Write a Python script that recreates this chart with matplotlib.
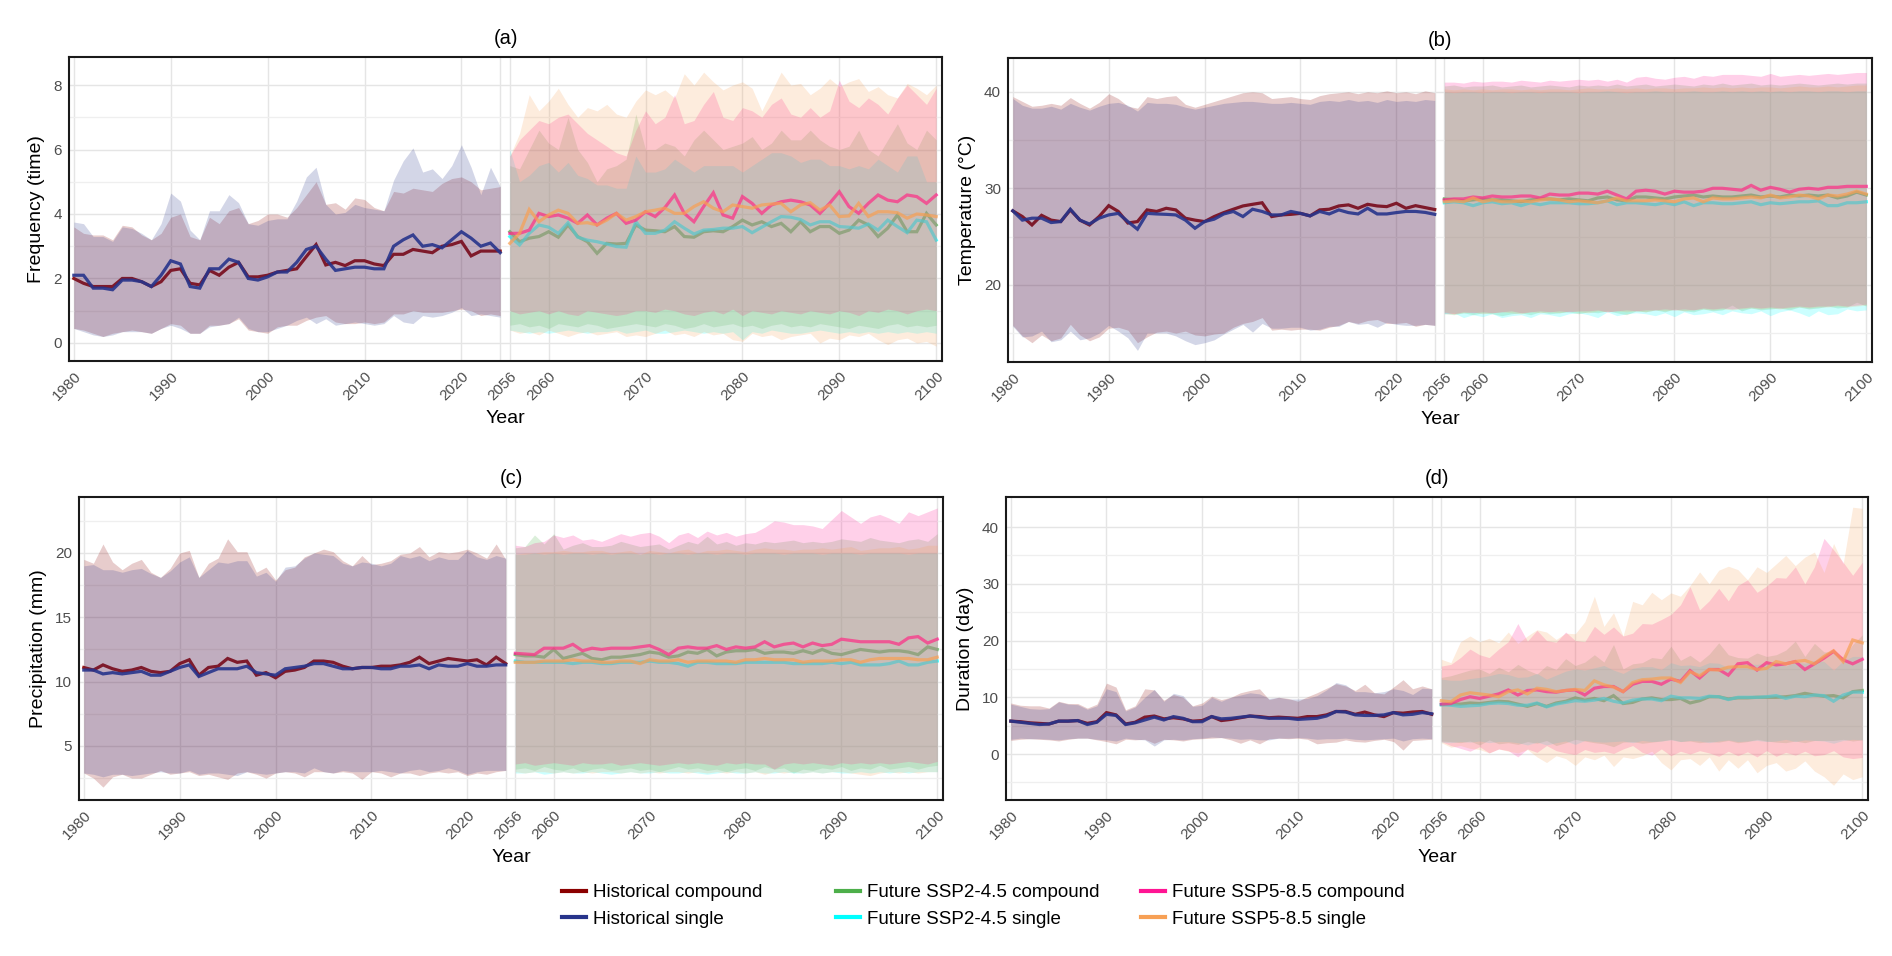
import numpy as np
import matplotlib
matplotlib.use("Agg")
import matplotlib.pyplot as plt
from matplotlib.lines import Line2D

plt.rcParams['font.family'] = ['Liberation Sans', 'DejaVu Sans']

HIST_YEARS = np.arange(1980, 2025)
FUT_YEARS = np.arange(2056, 2101)
TICK_YEARS = [1980, 1990, 2000, 2010, 2020, 2024, 2056, 2060, 2070, 2080, 2090, 2100]
TICK_LABELS = ['1980', '1990', '2000', '2010', '2020', '', '2056', '2060', '2070', '2080', '2090', '2100']

NAMES = ['Historical compound', 'Historical single', 'Future SSP2-4.5 compound',
         'Future SSP2-4.5 single', 'Future SSP5-8.5 compound', 'Future SSP5-8.5 single']
COLORS = ['#8B0000', '#27348B', '#4DAF4A', '#00FFFF', '#FF1493', '#F7A055']

# ---- (a) Frequency ----
A_HC = [2.0, 1.85, 1.75, 1.75, 1.75, 2.0, 2.0, 1.9, 1.75,
        1.9, 2.25, 2.3, 1.85, 1.8, 2.25, 2.1, 2.35, 2.5,
        2.05, 2.05, 2.1, 2.2, 2.25, 2.3, 2.68, 3.05, 2.42,
        2.5, 2.4, 2.55, 2.55, 2.45, 2.4, 2.75, 2.75, 2.9,
        2.85, 2.8, 3.0, 3.05, 3.15, 2.7, 2.85, 2.85, 2.85]
A_HC_LO = [0.45, 0.4, 0.3, 0.2, 0.3, 0.35, 0.4, 0.35, 0.3,
           0.45, 0.6, 0.55, 0.3, 0.3, 0.55, 0.55, 0.6, 0.75,
           0.4, 0.35, 0.3, 0.5, 0.55, 0.55, 0.7, 0.8, 0.85,
           0.65, 0.6, 0.6, 0.65, 0.6, 0.65, 0.9, 0.9, 1.0,
           0.95, 0.95, 0.95, 1.0, 1.05, 1.0, 0.85, 0.9, 0.85]
A_HC_HI = [3.6, 3.4, 3.35, 3.35, 3.2, 3.65, 3.6, 3.35, 3.2,
           3.4, 3.9, 4.0, 3.3, 3.2, 3.9, 3.7, 4.1, 4.2,
           3.7, 3.8, 4.0, 4.0, 3.9, 4.2, 4.6, 5.0, 4.3,
           4.35, 4.15, 4.5, 4.45, 4.2, 4.1, 4.7, 4.65, 4.8,
           4.75, 4.7, 4.95, 5.1, 5.15, 5.0, 4.75, 4.8, 4.85]
A_HS = [2.1, 2.1, 1.7, 1.7, 1.65, 1.95, 1.95, 1.9, 1.75,
        2.1, 2.55, 2.45, 1.75, 1.7, 2.3, 2.3, 2.6, 2.5,
        2.0, 1.95, 2.05, 2.2, 2.2, 2.5, 2.9, 3.0, 2.6,
        2.25, 2.3, 2.35, 2.35, 2.3, 2.3, 3.0, 3.2, 3.35,
        3.0, 3.05, 2.95, 3.2, 3.45, 3.25, 3.0, 3.1, 2.8]
A_HS_LO = [0.45, 0.35, 0.25, 0.2, 0.25, 0.35, 0.35, 0.35, 0.3,
           0.45, 0.55, 0.45, 0.3, 0.3, 0.5, 0.55, 0.6, 0.8,
           0.45, 0.35, 0.35, 0.45, 0.55, 0.7, 0.8, 0.6, 0.75,
           0.55, 0.6, 0.65, 0.6, 0.55, 0.6, 0.85, 0.65, 0.6,
           0.85, 0.8, 0.85, 0.95, 1.1, 0.85, 0.9, 0.85, 0.8]
A_HS_HI = [3.75, 3.7, 3.3, 3.3, 3.15, 3.6, 3.55, 3.4, 3.2,
           3.7, 4.65, 4.4, 3.5, 3.2, 4.1, 4.1, 4.6, 4.35,
           3.7, 3.65, 3.8, 3.85, 3.85, 4.4, 5.15, 5.45, 4.3,
           4.0, 4.05, 4.3, 4.2, 4.15, 4.1, 5.05, 5.65, 6.05,
           5.3, 5.4, 5.1, 5.5, 6.15, 5.45, 4.6, 5.45, 4.85]
A_F45C = [3.45, 3.14, 3.25, 3.3, 3.45, 3.28, 3.66, 3.3, 3.14,
          2.78, 3.09, 3.07, 3.09, 3.66, 3.5, 3.48, 3.45, 3.61,
          3.3, 3.28, 3.45, 3.48, 3.45, 3.61, 3.81, 3.66, 3.76,
          3.61, 3.71, 3.45, 3.76, 3.45, 3.61, 3.61, 3.4, 3.5,
          3.81, 3.66, 3.3, 3.56, 3.97, 3.45, 3.45, 4.02, 3.66]
A_F45C_LO = [0.55, 0.6, 0.5, 0.55, 0.45, 0.6, 0.55, 0.5, 0.6,
             0.55, 0.45, 0.5, 0.55, 0.6, 0.55, 0.5, 0.6, 0.55,
             0.45, 0.5, 0.6, 0.5, 0.55, 0.6, 0.5, 0.55, 0.45,
             0.55, 0.6, 0.5, 0.55, 0.5, 0.6, 0.55, 0.5, 0.45,
             0.55, 0.5, 0.45, 0.55, 0.6, 0.5, 0.55, 0.5, 0.55]
A_F45C_HI = [5.5, 5.4, 6.0, 6.6, 6.2, 6.0, 7.0, 6.0, 5.6,
             5.0, 5.4, 5.5, 5.7, 7.1, 6.0, 6.0, 6.2, 6.1,
             5.8, 6.3, 6.6, 6.3, 6.0, 6.1, 6.2, 6.4, 6.0,
             6.2, 6.6, 6.3, 6.3, 6.6, 6.3, 6.1, 6.0, 6.1,
             6.6, 6.0, 5.8, 6.3, 6.8, 6.2, 6.0, 6.6, 6.3]
A_F45S = [3.3, 3.04, 3.4, 3.66, 3.59, 3.4, 3.73, 3.28, 3.19,
          3.14, 3.07, 2.99, 2.97, 3.76, 3.4, 3.4, 3.5, 3.76,
          3.56, 3.38, 3.5, 3.52, 3.56, 3.56, 3.61, 3.42, 3.59,
          3.76, 3.92, 3.9, 3.83, 3.66, 3.76, 3.76, 3.61, 3.59,
          3.56, 3.69, 3.5, 3.81, 3.61, 3.42, 3.81, 3.76, 3.19]
A_F45S_LO = [0.4, 0.35, 0.3, 0.35, 0.3, 0.35, 0.4, 0.35, 0.3,
             0.35, 0.35, 0.4, 0.3, 0.35, 0.4, 0.3, 0.3, 0.35,
             0.4, 0.35, 0.3, 0.35, 0.3, 0.35, 0.1, 0.35, 0.3,
             0.4, 0.35, 0.3, 0.3, 0.35, 0.4, 0.35, 0.3, 0.35,
             0.3, 0.35, 0.3, 0.35, 0.3, 0.35, 0.3, 0.35, 0.3]
A_F45S_HI = [6.0, 5.0, 5.2, 5.5, 5.6, 5.3, 5.6, 5.2, 5.1,
             4.9, 4.9, 4.8, 4.8, 5.8, 5.3, 5.3, 5.4, 5.7,
             5.5, 5.3, 5.5, 5.5, 5.5, 5.5, 5.3, 5.5, 5.7,
             5.9, 5.9, 5.8, 5.6, 5.7, 5.7, 5.5, 5.5, 5.4,
             5.5, 5.4, 5.7, 5.5, 5.3, 5.8, 5.8, 5.0, 5.0]
A_F85C = [3.4, 3.4, 3.5, 4.02, 3.92, 3.97, 3.87, 3.71, 3.97,
          3.66, 3.87, 4.02, 3.71, 3.81, 4.07, 3.92, 4.2, 4.59,
          4.02, 3.76, 4.23, 4.66, 3.97, 3.87, 4.54, 4.33, 4.02,
          4.28, 4.38, 4.43, 4.38, 4.28, 4.02, 4.33, 4.69, 4.23,
          4.02, 4.33, 4.59, 4.43, 4.38, 4.59, 4.54, 4.33, 4.59]
A_F85C_LO = [1.0, 0.9, 0.95, 1.0, 0.9, 1.0, 0.9, 0.85, 1.0,
             0.95, 0.9, 0.85, 0.9, 1.0, 1.0, 0.95, 1.05, 1.0,
             0.9, 0.85, 0.95, 1.0, 0.9, 1.05, 0.85, 1.0, 0.95,
             0.9, 1.0, 0.95, 0.9, 1.0, 0.95, 0.9, 1.0, 0.95,
             0.85, 1.0, 0.95, 1.05, 1.0, 0.9, 1.0, 1.05, 1.0]
A_F85C_HI = [5.8, 6.3, 6.6, 6.9, 6.8, 7.0, 7.1, 6.8, 6.5,
             6.3, 6.1, 5.9, 5.8, 6.6, 7.2, 6.8, 7.0, 7.7,
             6.8, 6.9, 7.4, 7.8, 7.0, 6.9, 7.3, 7.2, 7.0,
             7.4, 7.6, 7.1, 7.0, 7.3, 7.0, 7.2, 8.15, 7.5,
             7.3, 7.6, 7.4, 7.1, 7.6, 8.0, 7.7, 7.4, 7.9]
A_F85S = [3.09, 3.4, 4.14, 3.76, 3.97, 4.12, 4.02, 3.71, 3.73,
          3.66, 3.81, 4.02, 3.81, 3.92, 4.07, 4.12, 4.18, 4.02,
          4.02, 4.23, 4.38, 4.18, 4.07, 4.28, 4.23, 4.18, 4.28,
          4.31, 4.33, 4.07, 4.28, 4.35, 4.12, 4.28, 3.92, 3.94,
          4.33, 3.92, 4.07, 4.07, 4.04, 3.87, 4.0, 3.97, 3.92]
A_F85S_LO = [0.4, 0.3, 0.35, 0.25, 0.4, 0.3, 0.2, 0.3, 0.35,
             0.25, 0.3, 0.35, 0.2, 0.25, 0.2, 0.3, 0.4, 0.25,
             0.3, 0.2, 0.35, 0.25, 0.3, 0.1, 0.05, 0.3, 0.2,
             0.25, 0.1, 0.2, 0.25, 0.3, 0.0, 0.15, 0.1, 0.25,
             0.2, 0.3, 0.1, -0.05, 0.1, 0.15, 0.0, 0.05, -0.1]
A_F85S_HI = [5.8, 6.5, 7.7, 7.2, 7.5, 7.9, 7.4, 7.0, 7.3,
             7.2, 7.4, 7.1, 7.0, 7.5, 7.85, 7.7, 7.85, 7.6,
             8.35, 8.0, 8.4, 8.1, 7.85, 8.0, 8.1, 7.9, 7.2,
             7.8, 8.4, 8.0, 8.05, 7.7, 7.9, 8.2, 7.95, 8.1,
             8.2, 7.8, 7.95, 7.7, 7.6, 8.05, 7.9, 7.7, 8.0]

# ---- (b) Temperature ----
B_HC = [27.66, 27.07, 26.2, 27.2, 26.7, 26.55, 27.76, 26.7, 26.2,
        27.07, 28.2, 27.6, 26.4, 26.55, 27.76, 27.6, 27.93, 27.76,
        26.9, 26.7, 26.55, 27.07, 27.48, 27.83, 28.17, 28.34, 28.5,
        27.07, 27.24, 27.3, 27.4, 27.14, 27.76, 27.83, 28.17, 28.28,
        27.93, 28.34, 28.17, 28.1, 28.45, 27.93, 28.2, 28.0, 27.8]
B_HC_LO = [15.8, 14.7, 14.0, 14.8, 14.2, 14.5, 15.9, 14.8, 14.2,
           14.6, 15.5, 15.6, 15.3, 14.0, 14.6, 15.1, 15.2, 15.0,
           15.2, 14.8, 14.7, 14.9, 15.0, 15.6, 16.0, 16.2, 16.6,
           15.3, 15.4, 15.3, 15.4, 15.4, 15.3, 15.6, 15.8, 16.2,
           16.0, 16.3, 16.4, 16.0, 16.0, 16.1, 15.7, 15.9, 15.8]
B_HC_HI = [39.5, 39.0, 38.5, 38.6, 38.8, 38.6, 39.4, 38.8, 38.3,
           38.9, 39.8, 39.3, 38.5, 38.3, 39.5, 39.3, 39.5, 39.6,
           38.7, 38.4, 38.7, 39.0, 39.3, 39.6, 39.9, 40.0, 39.9,
           39.3, 39.4, 39.5, 39.3, 39.2, 39.6, 39.8, 39.9, 40.0,
           39.8, 40.0, 39.9, 40.1, 39.9, 40.0, 39.8, 40.1, 39.9]
B_HS = [27.66, 26.7, 26.9, 26.9, 26.45, 26.55, 27.83, 26.7, 26.3,
        26.9, 27.24, 27.4, 26.55, 25.76, 27.4, 27.34, 27.3, 27.24,
        26.7, 25.86, 26.55, 26.8, 27.34, 27.6, 27.07, 27.83, 27.6,
        27.24, 27.24, 27.6, 27.4, 27.14, 27.6, 27.34, 27.76, 27.48,
        27.34, 27.93, 27.34, 27.34, 27.48, 27.6, 27.6, 27.5, 27.3]
B_HS_LO = [15.7, 14.6, 14.7, 15.2, 14.1, 14.3, 15.2, 14.3, 14.5,
           15.0, 15.8, 15.2, 14.5, 13.2, 15.0, 15.0, 15.0, 14.7,
           14.2, 13.8, 14.0, 14.3, 14.9, 15.4, 15.9, 15.1, 16.0,
           15.5, 15.5, 15.6, 15.6, 15.3, 15.4, 15.7, 15.7, 16.2,
           15.9, 16.0, 15.6, 16.1, 15.9, 15.8, 15.8, 15.9, 15.8]
B_HS_HI = [39.3, 38.6, 38.3, 38.3, 38.5, 38.2, 38.8, 38.4, 38.1,
           38.5, 38.8, 38.9, 38.6, 38.0, 38.9, 38.8, 38.8, 38.7,
           38.4, 38.2, 38.4, 38.6, 38.8, 38.9, 39.0, 39.0, 38.9,
           38.8, 38.8, 38.9, 38.8, 38.7, 39.0, 39.1, 39.0, 39.2,
           39.0, 39.1, 38.9, 39.2, 39.0, 39.1, 39.0, 39.2, 39.1]
B_F45C = [28.9, 28.8, 28.7, 28.8, 28.9, 28.8, 28.8, 28.7, 28.6,
          28.8, 28.9, 28.9, 28.8, 28.9, 28.8, 28.7, 29.0, 29.1,
          28.8, 28.7, 29.1, 29.1, 29.0, 28.9, 29.1, 29.2, 29.3,
          29.1, 29.2, 29.1, 29.1, 29.2, 29.3, 29.1, 29.2, 29.1,
          29.3, 29.2, 29.3, 29.2, 29.3, 29.0, 29.2, 29.6, 29.3]
B_F45C_LO = [17.0, 16.9, 17.1, 16.9, 17.1, 17.0, 16.8, 17.0, 17.1,
             16.9, 17.2, 17.0, 17.1, 17.2, 17.0, 17.2, 17.1, 17.3,
             17.1, 16.9, 17.3, 17.2, 17.4, 17.2, 17.5, 17.3, 17.2,
             17.5, 17.3, 17.4, 17.9, 17.3, 17.6, 17.4, 17.5, 17.6,
             17.4, 17.7, 17.5, 17.6, 17.8, 17.6, 17.7, 18.2, 17.8]
B_F45C_HI = [40.6, 40.7, 40.5, 40.6, 40.6, 40.7, 40.5, 40.6, 40.7,
             40.5, 40.6, 40.7, 40.6, 40.5, 40.7, 40.6, 40.7, 40.6,
             40.8, 40.6, 40.7, 40.8, 40.6, 40.7, 40.8, 40.7, 40.6,
             40.8, 40.7, 40.9, 40.7, 40.8, 40.9, 40.7, 40.8, 40.7,
             40.8, 40.9, 40.8, 40.7, 40.8, 40.9, 40.8, 40.9, 40.9]
B_F45S = [28.5, 28.6, 28.5, 28.2, 28.5, 28.6, 28.4, 28.5, 28.2,
          28.5, 28.3, 28.5, 28.5, 28.5, 28.4, 28.4, 28.5, 28.7,
          28.3, 28.5, 28.5, 28.4, 28.3, 28.5, 28.3, 28.6, 28.2,
          28.5, 28.5, 28.4, 28.4, 28.5, 28.6, 28.3, 28.5, 28.4,
          28.5, 28.6, 28.6, 28.7, 28.2, 28.2, 28.5, 28.5, 28.6]
B_F45S_LO = [17.0, 17.1, 16.6, 16.9, 16.7, 17.0, 16.6, 16.8, 16.9,
             16.6, 17.0, 16.9, 16.7, 17.0, 17.1, 16.9, 16.6, 17.2,
             16.8, 17.0, 17.1, 17.0, 16.8, 17.1, 16.7, 17.2, 16.9,
             17.0, 17.2, 16.9, 17.3, 17.1, 17.0, 17.3, 16.8, 17.2,
             17.4, 17.1, 16.7, 17.3, 16.9, 17.0, 17.5, 17.3, 17.4]
B_F45S_HI = [40.0, 39.9, 40.0, 40.0, 39.9, 40.0, 40.0, 39.9, 40.0,
             40.0, 39.9, 40.0, 40.0, 40.0, 39.9, 40.0, 40.0, 40.1,
             40.0, 39.9, 40.0, 40.0, 40.1, 40.0, 40.0, 40.0, 40.1,
             40.0, 40.0, 40.1, 40.0, 40.1, 40.0, 40.1, 40.0, 40.1,
             40.0, 40.1, 40.1, 40.0, 40.1, 40.1, 40.0, 40.1, 40.1]
B_F85C = [28.8, 28.9, 28.9, 29.1, 29.0, 29.2, 29.1, 29.1, 29.2,
          29.2, 29.0, 29.4, 29.3, 29.3, 29.5, 29.5, 29.4, 29.7,
          29.3, 28.9, 29.7, 29.8, 29.7, 29.4, 29.7, 29.6, 29.6,
          29.7, 30.0, 30.0, 29.9, 29.8, 30.3, 29.8, 30.1, 29.9,
          29.6, 29.9, 30.0, 29.9, 30.1, 30.1, 30.2, 30.2, 30.2]
B_F85C_LO = [17.1, 17.0, 17.2, 17.1, 17.2, 17.1, 17.2, 17.3, 17.1,
             17.2, 17.3, 17.2, 17.3, 17.2, 17.3, 17.3, 17.4, 17.2,
             17.3, 17.4, 17.3, 17.4, 17.4, 17.5, 17.4, 17.5, 17.4,
             17.6, 17.5, 17.6, 17.5, 17.6, 17.7, 17.6, 17.7, 17.6,
             17.7, 17.8, 17.7, 17.8, 17.8, 17.9, 17.8, 17.9, 18.0]
B_F85C_HI = [41.0, 41.0, 40.9, 41.1, 41.0, 41.1, 41.1, 41.0, 41.2,
             41.1, 41.0, 41.2, 41.1, 41.2, 41.3, 41.2, 41.3, 41.1,
             41.3, 41.0, 41.5, 41.6, 41.4, 41.3, 41.5, 41.6, 41.4,
             41.7, 41.6, 41.8, 41.8, 41.8, 41.7, 41.6, 41.9, 41.6,
             41.7, 41.8, 41.7, 41.8, 41.9, 41.8, 41.9, 42.0, 42.0]
B_F85S = [28.6, 28.7, 28.6, 29.0, 28.6, 28.8, 28.6, 28.6, 28.7,
          28.6, 28.8, 28.9, 28.8, 28.6, 28.7, 28.6, 28.5, 28.7,
          29.0, 28.7, 28.7, 28.7, 28.8, 28.7, 28.6, 28.9, 29.0,
          28.6, 29.0, 28.9, 28.9, 29.0, 29.1, 29.0, 29.3, 29.0,
          29.1, 29.3, 29.2, 28.9, 29.3, 29.2, 29.4, 29.7, 29.4]
B_F85S_LO = [17.2, 17.0, 17.1, 17.2, 17.0, 17.1, 17.2, 17.1, 17.0,
             17.2, 17.1, 17.2, 17.1, 17.3, 17.2, 17.1, 17.3, 17.2,
             17.3, 17.2, 17.3, 17.2, 17.4, 17.3, 17.4, 17.3, 17.4,
             17.5, 17.4, 17.5, 17.4, 17.5, 17.6, 17.5, 17.6, 17.5,
             17.6, 17.7, 17.6, 17.7, 17.7, 17.8, 17.7, 17.8, 17.9]
B_F85S_HI = [40.3, 40.2, 40.3, 40.2, 40.3, 40.2, 40.3, 40.3, 40.2,
             40.3, 40.2, 40.3, 40.3, 40.2, 40.3, 40.4, 40.3, 40.3,
             40.4, 40.3, 40.4, 40.3, 40.4, 40.4, 40.3, 40.4, 40.4,
             40.5, 40.4, 40.5, 40.4, 40.5, 40.4, 40.5, 40.5, 40.4,
             40.5, 40.6, 40.5, 40.5, 40.6, 40.5, 40.6, 40.7, 40.7]

# ---- (c) Precipitation ----
C_HC = [11.1, 10.9, 11.3, 11.0, 10.8, 10.9, 11.1, 10.8, 10.7,
        10.8, 11.4, 11.7, 10.5, 11.1, 11.2, 11.8, 11.5, 11.6,
        10.5, 10.7, 10.3, 10.8, 10.9, 11.1, 11.6, 11.6, 11.5,
        11.2, 11.0, 11.1, 11.1, 11.2, 11.2, 11.3, 11.5, 11.9,
        11.4, 11.6, 11.8, 11.7, 11.6, 11.7, 11.3, 11.9, 11.4]
C_HC_LO = [2.9, 2.5, 1.8, 2.6, 2.8, 2.5, 2.5, 2.8, 3.1,
           2.8, 2.9, 3.0, 2.7, 2.8, 2.6, 2.4, 2.9, 3.0,
           2.8, 2.5, 2.9, 3.0, 2.9, 2.6, 3.0, 3.0, 2.9,
           3.0, 2.9, 2.4, 3.0, 2.9, 2.6, 2.9, 2.9, 2.7,
           2.9, 3.0, 2.9, 3.0, 2.7, 2.9, 2.8, 3.0, 3.1]
C_HC_HI = [19.5, 19.2, 20.7, 19.3, 18.7, 19.2, 19.5, 18.5, 18.1,
           18.8, 20.0, 20.2, 18.1, 19.2, 19.6, 21.1, 20.1, 20.1,
           18.5, 18.9, 17.9, 18.7, 18.9, 19.7, 20.0, 20.3, 20.1,
           19.4, 19.0, 19.8, 19.1, 19.2, 19.4, 19.9, 20.0, 20.5,
           19.7, 20.1, 20.0, 20.1, 20.3, 20.0, 19.6, 20.7, 19.5]
C_HS = [10.9, 10.9, 10.6, 10.7, 10.6, 10.7, 10.8, 10.5, 10.5,
        10.8, 11.1, 11.3, 10.4, 10.7, 11.0, 11.0, 11.0, 11.2,
        10.7, 10.6, 10.5, 11.0, 11.1, 11.2, 11.4, 11.4, 11.2,
        11.0, 11.0, 11.1, 11.1, 11.0, 11.0, 11.2, 11.2, 11.3,
        11.0, 11.3, 11.2, 11.2, 11.4, 11.2, 11.2, 11.3, 11.3]
C_HS_LO = [2.9, 2.8, 2.6, 2.8, 2.8, 2.7, 2.8, 2.9, 3.0,
           2.9, 2.9, 3.1, 2.8, 2.9, 2.9, 2.8, 2.7, 3.0,
           2.9, 2.8, 2.9, 3.0, 3.0, 2.9, 3.3, 3.0, 2.9,
           3.1, 3.0, 3.0, 3.0, 3.1, 3.0, 2.9, 3.1, 3.2,
           3.0, 3.1, 3.3, 3.1, 2.8, 3.0, 3.1, 3.1, 3.1]
C_HS_HI = [19.0, 19.1, 18.7, 18.7, 18.5, 18.7, 18.8, 18.4, 18.1,
           18.6, 19.3, 19.7, 18.1, 18.7, 19.3, 19.2, 19.4, 19.4,
           18.2, 18.5, 17.8, 18.9, 19.0, 19.6, 20.0, 19.9, 19.8,
           19.2, 19.0, 19.3, 19.2, 19.0, 19.2, 19.8, 19.6, 19.8,
           19.4, 19.7, 19.5, 19.5, 20.2, 19.7, 19.5, 19.8, 19.6]
C_F45C = [12.1, 12.0, 12.0, 11.9, 12.5, 11.8, 12.0, 12.2, 11.8,
          11.7, 11.9, 11.9, 12.0, 12.1, 12.3, 12.2, 11.9, 12.0,
          12.3, 12.2, 12.5, 12.0, 12.3, 12.4, 12.4, 12.5, 12.2,
          12.3, 12.3, 12.2, 12.4, 12.2, 12.5, 12.2, 12.1, 12.3,
          12.5, 12.4, 12.3, 12.4, 12.4, 12.3, 12.1, 12.7, 12.5]
C_F45C_LO = [3.2, 3.3, 3.1, 3.4, 3.2, 3.1, 3.3, 3.0, 3.2,
             3.3, 3.1, 3.2, 3.3, 3.1, 3.2, 3.0, 3.2, 3.4,
             3.2, 3.3, 3.1, 3.2, 3.0, 3.2, 3.3, 3.1, 3.4,
             3.2, 3.3, 2.9, 3.2, 3.1, 3.3, 3.2, 3.4, 3.1,
             3.3, 3.2, 3.5, 3.2, 3.3, 3.4, 3.2, 3.4, 3.5]
C_F45C_HI = [20.4, 20.5, 21.4, 20.7, 21.5, 20.3, 20.6, 20.8, 20.5,
             20.5, 20.6, 20.9, 20.7, 20.5, 20.6, 20.7, 20.3, 20.6,
             20.9, 20.7, 21.3, 20.7, 20.9, 20.6, 20.8, 20.7, 20.9,
             20.8, 20.9, 21.0, 20.8, 20.9, 20.8, 20.9, 21.1, 21.0,
             20.9, 21.2, 21.0, 20.9, 20.8, 21.0, 21.1, 20.9, 21.5]
C_F45S = [11.6, 11.5, 11.5, 11.5, 11.5, 11.5, 11.4, 11.5, 11.5,
          11.4, 11.4, 11.5, 11.5, 11.5, 11.6, 11.5, 11.5, 11.4,
          11.2, 11.5, 11.5, 11.4, 11.4, 11.4, 11.5, 11.5, 11.5,
          11.5, 11.5, 11.4, 11.4, 11.4, 11.4, 11.5, 11.4, 11.5,
          11.3, 11.3, 11.3, 11.4, 11.6, 11.3, 11.3, 11.5, 11.6]
C_F45S_LO = [2.9, 2.9, 3.0, 2.8, 2.9, 3.0, 2.9, 2.9, 3.0,
             2.9, 2.8, 2.9, 3.0, 2.9, 2.9, 3.0, 2.9, 2.9,
             3.0, 2.9, 2.8, 2.9, 3.0, 2.9, 2.9, 3.0, 2.9,
             2.9, 3.0, 2.9, 2.9, 3.0, 2.9, 3.0, 2.9, 2.9,
             3.0, 2.9, 3.0, 2.9, 3.0, 2.9, 3.0, 3.0, 3.0]
C_F45S_HI = [19.9, 19.9, 20.0, 19.9, 20.0, 19.9, 20.0, 20.0, 19.9,
             20.0, 19.9, 20.0, 20.0, 19.9, 20.0, 19.9, 20.0, 20.0,
             19.9, 20.0, 20.0, 19.9, 20.0, 20.0, 19.9, 20.0, 20.0,
             20.0, 19.9, 20.0, 20.0, 20.0, 19.9, 20.0, 20.0, 20.0,
             19.9, 20.0, 20.0, 20.0, 20.0, 19.9, 20.0, 20.0, 20.0]
C_F85C = [12.2, 12.15, 12.1, 12.6, 12.6, 12.6, 12.9, 12.4, 12.6,
          12.5, 12.6, 12.6, 12.6, 12.7, 12.8, 12.5, 12.1, 12.6,
          12.7, 12.6, 12.6, 12.8, 12.5, 12.7, 12.6, 12.7, 13.1,
          12.7, 12.9, 13.0, 12.7, 13.0, 12.8, 12.9, 13.3, 13.2,
          13.1, 13.1, 13.1, 13.1, 12.9, 13.4, 13.5, 13.0, 13.3]
C_F85C_LO = [3.6, 3.7, 3.5, 3.6, 3.7, 3.6, 3.5, 3.7, 3.6,
             3.6, 3.7, 3.5, 3.6, 3.7, 3.6, 3.5, 3.6, 3.7,
             3.6, 3.7, 3.6, 3.5, 3.7, 3.6, 3.7, 3.6, 3.6,
             3.2, 3.6, 3.7, 3.6, 3.7, 3.6, 3.5, 3.7, 3.6,
             3.7, 3.6, 3.7, 3.6, 3.7, 3.8, 3.7, 3.6, 3.8]
C_F85C_HI = [20.6, 20.5, 20.8, 20.9, 21.4, 21.2, 21.4, 21.0, 21.1,
             20.9, 21.2, 21.5, 21.3, 21.5, 21.6, 21.3, 20.8, 21.4,
             21.6, 21.2, 21.7, 21.4, 21.6, 21.3, 21.5, 21.6, 22.0,
             22.5, 22.4, 22.2, 22.2, 22.1, 21.9, 22.6, 23.3, 22.8,
             22.3, 22.8, 23.0, 22.7, 22.3, 23.2, 22.9, 23.2, 23.5]
C_F85S = [11.5, 11.5, 11.5, 11.6, 11.6, 11.6, 11.7, 11.6, 11.6,
          11.5, 11.5, 11.6, 11.6, 11.4, 11.7, 11.6, 11.6, 11.7,
          11.5, 11.6, 11.6, 11.6, 11.6, 11.5, 11.7, 11.7, 11.8,
          11.7, 11.7, 11.7, 11.5, 11.6, 11.6, 11.6, 11.7, 11.7,
          11.5, 11.7, 11.8, 11.8, 11.8, 11.8, 11.7, 11.7, 11.9]
C_F85S_LO = [3.0, 2.9, 3.0, 3.0, 2.9, 3.0, 2.9, 3.0, 2.9,
             3.0, 3.0, 2.9, 3.0, 2.9, 3.0, 2.9, 3.0, 3.0,
             2.9, 3.0, 2.9, 3.0, 2.9, 3.0, 2.9, 3.0, 2.8,
             3.0, 2.9, 3.0, 2.9, 3.0, 2.9, 3.0, 3.0, 2.9,
             2.8, 2.7, 2.9, 3.0, 2.9, 3.0, 2.9, 3.0, 3.0]
C_F85S_HI = [19.9, 20.0, 20.0, 20.1, 20.1, 20.2, 20.1, 20.1, 20.2,
             20.2, 20.0, 20.1, 20.2, 19.9, 20.2, 20.1, 20.0, 20.2,
             20.3, 20.0, 20.2, 20.2, 20.3, 20.2, 20.1, 20.3, 20.4,
             20.3, 20.3, 20.2, 20.3, 20.3, 20.4, 20.3, 20.4, 20.5,
             20.2, 20.3, 20.4, 20.4, 20.5, 20.3, 20.4, 20.6, 20.6]

# ---- (d) Duration ----
D_HC = [5.8, 5.7, 5.5, 5.4, 5.3, 5.8, 5.8, 5.9, 5.4,
        5.7, 7.3, 6.9, 5.3, 5.6, 6.5, 6.7, 6.2, 6.4,
        6.2, 5.8, 5.9, 6.6, 5.9, 6.1, 6.4, 6.7, 6.6,
        6.4, 6.5, 6.4, 6.3, 6.6, 6.6, 6.9, 7.5, 7.5,
        7.0, 7.4, 6.9, 6.6, 7.3, 7.2, 7.4, 7.5, 7.0]
D_HC_LO = [2.4, 2.6, 2.7, 2.6, 2.5, 2.3, 2.6, 2.8, 2.8,
           2.5, 2.2, 1.8, 2.6, 2.5, 2.6, 1.9, 2.6, 2.5,
           2.3, 2.6, 2.7, 2.8, 2.9, 2.5, 1.9, 2.5, 1.8,
           2.7, 2.8, 2.7, 2.8, 2.6, 1.8, 2.0, 2.1, 2.5,
           2.2, 2.1, 2.4, 2.6, 2.2, 0.7, 2.4, 2.5, 2.6]
D_HC_HI = [9.0, 8.6, 8.5, 8.5, 8.1, 9.3, 8.9, 8.9, 8.1,
           8.8, 12.5, 11.8, 7.8, 8.5, 11.5, 11.3, 9.5, 10.5,
           10.0, 8.5, 9.0, 10.2, 9.6, 10.0, 10.8, 11.2, 11.5,
           9.6, 10.0, 9.8, 9.3, 10.1, 10.8, 11.6, 12.4, 12.0,
           11.2, 12.3, 10.8, 10.6, 11.8, 13.1, 11.5, 12.0, 11.5]
D_HS = [5.8, 5.6, 5.4, 5.2, 5.3, 5.8, 5.8, 5.9, 5.2,
        5.6, 7.0, 6.8, 5.2, 5.5, 6.0, 6.5, 6.0, 6.6,
        6.3, 5.7, 5.7, 6.6, 6.2, 6.3, 6.5, 6.7, 6.5,
        6.3, 6.3, 6.3, 6.1, 6.2, 6.3, 6.7, 7.5, 7.4,
        6.9, 6.8, 6.8, 6.9, 7.3, 6.9, 7.0, 7.3, 7.1]
D_HS_LO = [2.6, 2.8, 2.7, 2.7, 2.6, 2.5, 2.7, 2.8, 2.8,
           2.6, 2.5, 2.3, 2.8, 2.6, 2.5, 1.4, 2.5, 2.6,
           2.5, 2.7, 2.8, 3.0, 2.9, 2.8, 2.6, 2.7, 2.5,
           2.5, 2.8, 2.8, 2.9, 2.8, 2.6, 2.7, 2.7, 2.8,
           2.6, 2.5, 2.6, 2.7, 2.8, 2.3, 2.7, 2.8, 2.7]
D_HS_HI = [8.8, 8.4, 8.0, 7.9, 8.0, 9.2, 8.8, 8.7, 7.9,
           8.5, 11.5, 11.0, 7.6, 8.3, 10.0, 11.4, 9.3, 10.7,
           10.3, 8.4, 8.6, 10.0, 9.3, 10.0, 10.4, 10.8, 10.6,
           9.8, 10.0, 9.7, 9.7, 9.8, 10.3, 11.3, 12.6, 12.2,
           11.0, 11.0, 10.8, 11.0, 11.5, 11.2, 10.5, 11.6, 11.5]
D_F45C = [8.7, 8.8, 8.8, 9.0, 8.9, 9.1, 9.3, 9.2, 8.8,
          8.4, 8.9, 8.4, 9.0, 9.3, 9.9, 9.5, 9.8, 9.4,
          10.3, 8.9, 9.1, 9.7, 9.9, 9.6, 9.6, 9.8, 9.0,
          9.4, 10.1, 10.1, 9.7, 9.9, 9.9, 10.0, 10.0, 10.0,
          10.1, 10.3, 10.7, 10.4, 10.2, 10.3, 9.9, 11.0, 11.2]
D_F45C_LO = [2.3, 2.2, 2.0, 2.3, 1.6, 2.5, 1.8, 2.0, 1.7,
             2.2, 1.9, 2.4, 1.5, 2.0, 2.6, 2.3, 2.0, 1.8,
             1.3, 2.1, 2.2, 1.9, 2.1, 2.3, 2.6, 2.2, 2.3,
             2.0, 2.2, 2.1, 2.4, 2.0, 2.2, 2.6, 2.3, 2.1,
             2.0, 2.3, 2.0, 2.4, 2.4, 2.4, 2.6, 2.3, 2.5]
D_F45C_HI = [13.5, 13.8, 14.3, 14.8, 15.0, 14.2, 15.3, 14.5, 15.8,
             14.8, 14.1, 15.6, 14.9, 16.8, 15.6, 16.2, 17.5, 16.2,
             19.3, 15.0, 15.9, 16.1, 17.0, 16.8, 19.0, 16.5, 17.4,
             16.2, 17.6, 19.6, 17.5, 17.0, 16.9, 17.8, 17.2, 17.5,
             18.3, 19.9, 17.2, 19.5, 18.0, 18.0, 17.0, 19.3, 21.0]
D_F45S = [8.7, 8.6, 8.4, 8.5, 8.6, 8.9, 9.0, 8.9, 8.6,
          8.6, 9.0, 8.3, 8.8, 9.1, 9.4, 9.3, 9.5, 9.8,
          9.3, 9.0, 9.5, 9.7, 9.7, 9.4, 10.2, 9.9, 9.9,
          9.8, 10.2, 10.1, 9.6, 10.0, 10.0, 10.0, 10.1, 10.3,
          9.8, 10.2, 10.1, 10.4, 10.3, 9.3, 10.4, 10.9, 10.9]
D_F45S_LO = [2.1, 2.0, 2.2, 2.1, 2.3, 2.0, 2.2, 2.2, 2.0,
             1.6, 2.1, 1.6, 2.0, 2.3, 1.7, 2.4, 2.2, 2.1,
             2.2, 2.3, 2.0, 2.4, 2.2, 2.3, 2.5, 2.2, 2.4,
             2.3, 2.0, 2.3, 2.5, 2.2, 2.3, 2.4, 2.2, 2.3,
             2.6, 2.2, 2.5, 2.4, 2.3, 1.9, 2.4, 2.6, 2.5]
D_F45S_HI = [13.2, 13.0, 13.0, 13.3, 13.5, 13.8, 14.2, 14.0, 13.5,
             13.6, 14.2, 13.2, 13.9, 14.6, 15.0, 14.8, 15.2, 15.6,
             14.8, 14.2, 15.1, 15.4, 15.4, 14.9, 16.1, 15.6, 15.7,
             15.4, 16.1, 16.0, 15.2, 15.9, 15.9, 15.8, 16.0, 16.3,
             15.5, 16.2, 16.0, 16.5, 16.3, 14.8, 16.4, 17.2, 17.2]
D_F85C = [8.8, 8.9, 9.6, 10.1, 9.8, 10.2, 10.6, 11.3, 10.4,
          11.2, 11.3, 11.0, 10.9, 11.2, 11.3, 10.4, 11.6, 11.9,
          11.9, 11.0, 12.3, 12.8, 12.8, 12.3, 13.2, 12.8, 14.7,
          13.4, 14.9, 14.9, 13.9, 15.9, 16.1, 14.8, 16.1, 15.7,
          15.9, 16.3, 14.9, 15.9, 16.9, 18.1, 16.6, 15.9, 16.7]
D_F85C_LO = [2.2, 1.5, 1.0, 0.5, 1.3, 0.2, 0.9, 0.6, -0.5,
             0.9, 0.3, 1.5, 0.6, 0.2, -0.1, 0.8, 0.3, 0.5,
             0.1, 0.9, 1.5, 0.3, -0.2, 0.9, -0.3, 0.5, 0.0,
             0.6, 0.2, -0.4, 0.5, -0.3, 0.4, -0.5, 0.6, -0.4,
             0.3, -0.2, 0.5, -0.3, -0.1, 0.6, -0.5, -0.8, -0.6]
D_F85C_HI = [15.5, 15.8, 17.0, 18.5, 17.5, 17.0, 18.5, 19.8, 23.0,
             19.9, 21.8, 20.0, 19.7, 21.5, 20.0, 19.8, 22.5, 21.1,
             22.4, 20.8, 21.3, 23.0, 22.9, 23.7, 24.6, 26.3, 29.5,
             25.4, 27.0, 29.2, 27.0, 29.7, 30.7, 28.5, 29.6, 31.1,
             31.0, 33.0, 30.0, 33.0, 38.0, 36.0, 33.8, 31.5, 33.8]
D_F85S = [9.4, 9.2, 10.4, 10.8, 10.6, 10.4, 10.1, 11.0, 11.3,
          10.6, 11.6, 11.4, 11.0, 11.2, 11.4, 11.2, 12.9, 12.2,
          11.8, 11.0, 12.6, 13.1, 13.2, 13.4, 13.4, 12.6, 14.5,
          13.8, 14.9, 14.8, 15.3, 15.4, 15.4, 14.9, 15.1, 16.3,
          15.9, 16.3, 16.5, 15.9, 17.2, 18.2, 16.3, 20.1, 19.6]
D_F85S_LO = [2.0, 1.2, 1.5, 1.0, 0.8, 0.2, 0.9, 0.5, 0.2,
             0.8, -0.5, -1.5, -0.3, -0.8, -2.0, -0.5, -1.0, -0.2,
             -2.2, -0.5, -0.8, -0.3, 0.5, -1.5, -2.8, -1.0, -0.8,
             -2.0, -0.5, -3.0, -1.0, -2.5, -1.0, -3.3, -2.0, -1.5,
             -3.0, -2.5, -1.2, -3.0, -4.0, -5.5, -3.5, -4.5, -4.0]
D_F85S_HI = [16.7, 16.1, 19.8, 20.8, 19.8, 20.4, 19.6, 21.5, 19.5,
             20.8, 21.9, 21.5, 20.2, 21.3, 21.2, 23.3, 27.8, 22.5,
             24.9, 20.8, 26.9, 26.3, 28.5, 27.2, 28.4, 27.8, 29.7,
             32.1, 30.0, 32.4, 33.1, 32.5, 30.7, 33.0, 32.0, 33.5,
             35.0, 33.2, 34.7, 35.6, 32.0, 37.1, 33.5, 43.5, 43.3]


def xpos(years):
    # broken time axis: 2056 follows directly after 2024
    years = np.asarray(years)
    return np.where(years >= 2056, years - 2011, years - 1980)


def panel(ax, series, ylim, major, minor, ylabel, title):
    hx = xpos(HIST_YEARS)
    fx = xpos(FUT_YEARS)
    z = 2
    for i, (mean, lo, hi) in enumerate(series):
        x = hx if i < 2 else fx
        ax.fill_between(x, lo, hi, color=COLORS[i], alpha=0.2, lw=0, zorder=z)
        ax.plot(x, mean, color=COLORS[i], lw=2.3, alpha=0.9 if i < 2 else 0.72,
                zorder=z + 1, solid_joinstyle='miter')
        z += 2
    ax.set_xlim(-0.5, 89.6)
    ax.set_ylim(*ylim)
    ax.set_xticks(xpos(TICK_YEARS))
    ax.set_xticklabels(TICK_LABELS, rotation=45, ha='right', va='top',
                       rotation_mode='anchor')
    ax.set_yticks(major)
    ax.set_yticks(minor, minor=True)
    ax.tick_params(axis='both', which='both', length=0, labelsize=11,
                   labelcolor='#4D4D4D', pad=5)
    ax.tick_params(axis='x', pad=6)
    ax.grid(which='major', color='#E5E5E5', lw=1.0)
    ax.grid(which='minor', axis='y', color='#EFEFEF', lw=0.9)
    ax.set_axisbelow(True)
    for s in ax.spines.values():
        s.set_linewidth(1.5)
        s.set_color('#1A1A1A')
    ax.set_xlabel('Year', fontsize=14, labelpad=5)
    ax.set_ylabel(ylabel, fontsize=14, labelpad=6)
    ax.set_title(title, fontsize=14.5, pad=9)


fig = plt.figure(figsize=(18.92, 9.56), dpi=100)
W, H = 1892.0, 956.0
ax_a = fig.add_axes([69 / W, 1 - 361 / H, 873 / W, 304 / H])
ax_b = fig.add_axes([1008 / W, 1 - 362 / H, 864 / W, 304 / H])
ax_c = fig.add_axes([79 / W, 1 - 800 / H, 864 / W, 303 / H])
ax_d = fig.add_axes([1006 / W, 1 - 800 / H, 862 / W, 303 / H])

panel(ax_a, [(A_HC, A_HC_LO, A_HC_HI), (A_HS, A_HS_LO, A_HS_HI),
             (A_F45C, A_F45C_LO, A_F45C_HI), (A_F45S, A_F45S_LO, A_F45S_HI),
             (A_F85C, A_F85C_LO, A_F85C_HI), (A_F85S, A_F85S_LO, A_F85S_HI)],
      (-0.56, 8.87), [0, 2, 4, 6, 8], [1, 3, 5, 7], 'Frequency (time)', '(a)')
panel(ax_b, [(B_HC, B_HC_LO, B_HC_HI), (B_HS, B_HS_LO, B_HS_HI),
             (B_F45C, B_F45C_LO, B_F45C_HI), (B_F45S, B_F45S_LO, B_F45S_HI),
             (B_F85C, B_F85C_LO, B_F85C_HI), (B_F85S, B_F85S_LO, B_F85S_HI)],
      (12.0, 43.5), [20, 30, 40], [15, 25, 35], 'Temperature (°C)', '(b)')
panel(ax_c, [(C_HC, C_HC_LO, C_HC_HI), (C_HS, C_HS_LO, C_HS_HI),
             (C_F45C, C_F45C_LO, C_F45C_HI), (C_F45S, C_F45S_LO, C_F45S_HI),
             (C_F85C, C_F85C_LO, C_F85C_HI), (C_F85S, C_F85S_LO, C_F85S_HI)],
      (0.8, 24.35), [5, 10, 15, 20], [2.5, 7.5, 12.5, 17.5, 22.5],
      'Precipitation (mm)', '(c)')
panel(ax_d, [(D_HC, D_HC_LO, D_HC_HI), (D_HS, D_HS_LO, D_HS_HI),
             (D_F45C, D_F45C_LO, D_F45C_HI), (D_F45S, D_F45S_LO, D_F45S_HI),
             (D_F85C, D_F85C_LO, D_F85C_HI), (D_F85S, D_F85S_LO, D_F85S_HI)],
      (-8.1, 45.3), [0, 10, 20, 30, 40], [-5, 5, 15, 25, 35], 'Duration (day)', '(d)')

# legend: three columns placed separately
col_x = [562, 836, 1141]
for c in range(3):
    handles = [Line2D([], [], color=COLORS[2 * c + k], lw=3) for k in range(2)]
    fig.legend(handles, NAMES[2 * c:2 * c + 2], loc='upper left',
               bbox_to_anchor=(col_x[c] / W, 1 - 884 / H), frameon=False,
               fontsize=13.5, handlelength=1.3, handletextpad=0.35,
               labelspacing=0.5, borderpad=0, borderaxespad=0)

fig.savefig('out.png', dpi=100)
